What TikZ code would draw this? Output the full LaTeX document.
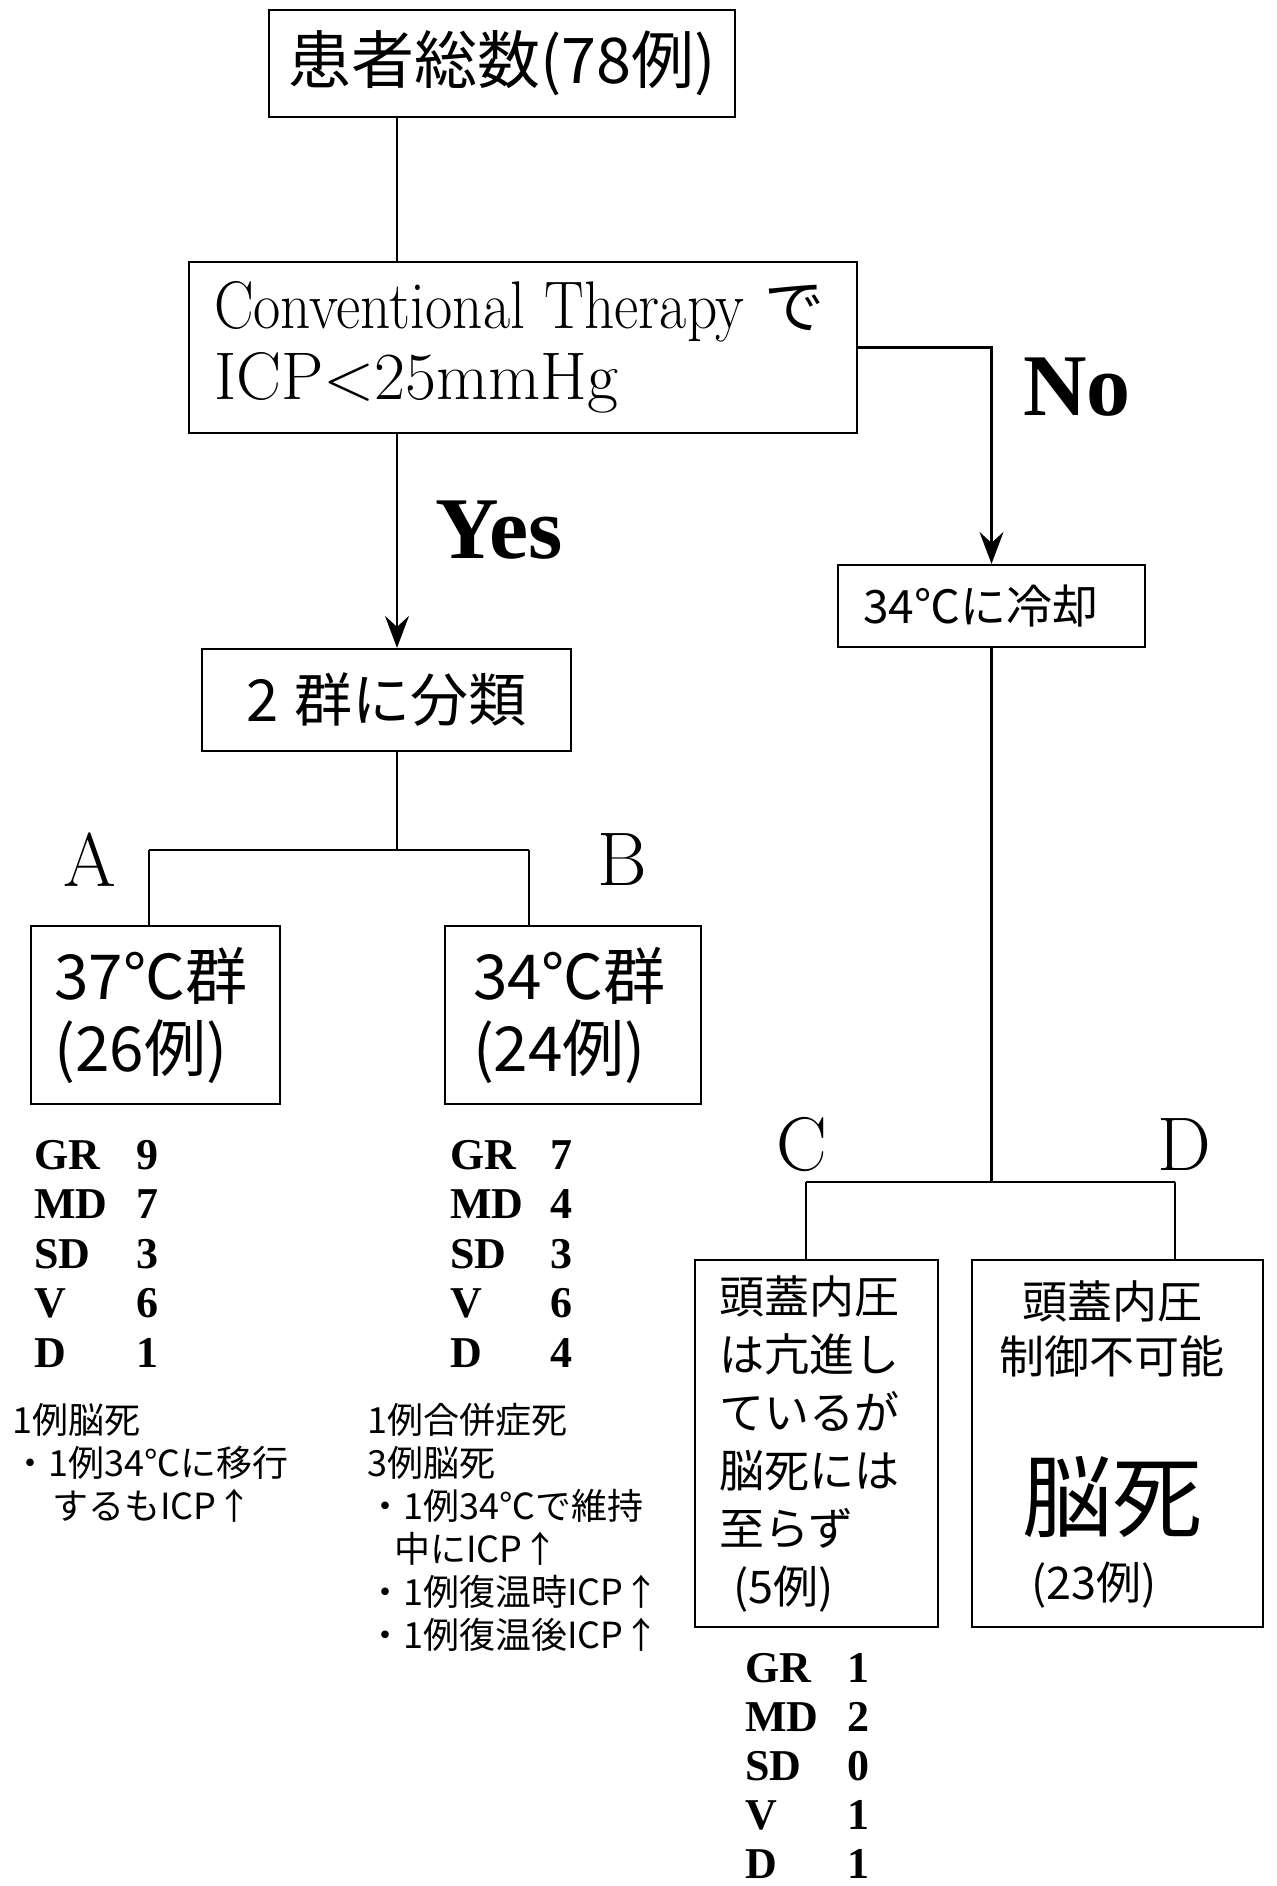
\documentclass[tikz,border=0pt]{standalone}
\usepackage{fontspec}
\usepackage{graphicx}
\newfontfamily\cjk{Noto Sans CJK JP}
\newfontfamily\tnr{Liberation Serif}
\usetikzlibrary{arrows.meta}
\begin{document}
\begin{tikzpicture}[x=0.5pt,y=-0.5pt,
  box/.style={draw, line width=1.1pt, inner sep=0pt},
  conn/.style={line width=1.1pt},
  arr/.style={conn, -{Stealth[length=16pt,width=12pt,inset=5.5pt]}},
  stat/.style={anchor=base west, inner sep=0pt, font=\tnr\bfseries\fontsize{22pt}{26pt}\selectfont},
  note/.style={anchor=base west, inner sep=0pt, font=\cjk\fontsize{18pt}{22pt}\selectfont},
  big/.style={inner sep=0pt, font=\tnr\bfseries\fontsize{44pt}{48pt}\selectfont},
  letter/.style={inner sep=0pt, font=\fontsize{38pt}{42pt}\selectfont},
  dtext/.style={anchor=center, inner sep=0pt, font=\cjk\fontsize{22.5pt}{27pt}\selectfont},
]
\useasboundingbox (0,0) rectangle (1277,1886);
\fill[white] (0,0) rectangle (1277,1886);
\coordinate (spine) at (397,0);

% boxes
\node[box, minimum width=233pt, minimum height=53.5pt, font=\cjk\fontsize{31.5pt}{36pt}\selectfont] (top) at (502,63.5) {患者総数(78例)};
\node[box, minimum width=334pt, minimum height=85.5pt, text width=309pt, inner xsep=12.5pt, align=left,
      font=\fontsize{33.7pt}{35.5pt}\selectfont] (conv) at (523,347.5)
      {\mbox{\scalebox{0.88}[1]{Conventional Therapy}\hspace{10pt}{\cjk\fontsize{30pt}{34pt}\selectfont で}}\\\scalebox{1.0}[1]{ICP<25mmHg}};
\node[box, minimum width=153.5pt, minimum height=41pt, text width=128.5pt, inner xsep=12.5pt, align=left,
      font=\cjk\fontsize{23pt}{27pt}\selectfont] (cool) at (991.5,606) {34℃に冷却};
\node[box, minimum width=184.5pt, minimum height=51pt, font=\cjk\fontsize{29pt}{33pt}\selectfont] (two) at (386.5,700) {2\hspace{8pt}群に分類};
\node[box, minimum width=124.5pt, minimum height=89pt, text width=101pt, inner xsep=11.75pt, align=left,
      font=\cjk\fontsize{31pt}{36pt}\selectfont] (abox) at (155.5,1015) {37℃群\\(26例)};
\node[box, minimum width=128pt, minimum height=89pt, text width=100pt, inner xsep=14pt, align=left,
      font=\cjk\fontsize{31pt}{36pt}\selectfont] (bbox) at (573,1015) {34℃群\\(24例)};
\node[box, minimum width=121.5pt, minimum height=183.5pt, text width=97.5pt, inner xsep=12pt, align=left,
      font=\cjk\fontsize{22.5pt}{29pt}\selectfont] (cbox) at (816.5,1443.5)
      {頭蓋内圧\\は亢進し\\ているが\\脳死には\\至らず\\\hspace*{7pt}(5例)};
\node[box, minimum width=145.5pt, minimum height=183.5pt] (dbox) at (1117.5,1443.5) {};
\node[dtext] (d1) at (1112,1301) {頭蓋内圧};
\node[dtext] (d2) at (1112,1356) {制御不可能};
\node[dtext, font=\cjk\fontsize{45pt}{50pt}\selectfont] (d3) at (1112,1497) {脳死};
\node[dtext] (d4) at (1094,1585) {(23例)};

% labels
\node[big] (yes) at (499,530) {Yes};
\node[big] (no) at (1077,387) {No};
\node[letter] (la) at (90,860) {A};
\node[letter] (lb) at (622,860) {B};
\node[letter] (lc) at (802,1145) {C};
\node[letter] (ld) at (1184,1145) {D};

% connectors
\draw[conn] (top.south -| spine) -- (conv.north -| spine);
\draw[arr] (conv.south -| spine) -- (two.north -| spine);
\draw[arr] (conv.east) -| (cool.north);
\coordinate (ja) at (149,850);
\coordinate (jb) at (529,850);
\draw[conn] (two.south -| spine) -- (ja -| spine);
\draw[conn] (ja) -- (jb);
\draw[conn] (ja) -- (ja |- abox.north);
\draw[conn] (jb) -- (jb |- bbox.north);
\coordinate (jc) at (806,1182);
\coordinate (jd) at (1175,1182);
\draw[conn] (cool.south) -- (cool.south |- jc);
\draw[conn] (jc) -- (jd);
\draw[conn] (jc) -- (jc |- cbox.north);
\draw[conn] (jd) -- (jd |- dbox.north);

% outcome lists
\foreach \l/\n [count=\i] in {GR/9,MD/7,SD/3,V/6,D/1}
  \node[stat] (sa\i) at (34,{1169+49.6*(\i-1)}) {\makebox[51pt][l]{\l}\n};
\foreach \l/\n [count=\i] in {GR/7,MD/4,SD/3,V/6,D/4}
  \node[stat] (sb\i) at (450,{1169+49.6*(\i-1)}) {\makebox[50pt][l]{\l}\n};
\foreach \l/\n [count=\i] in {GR/1,MD/2,SD/0,V/1,D/1}
  \node[stat] (sc\i) at (745,{1682+49*(\i-1)}) {\makebox[51pt][l]{\l}\n};

% notes
\node[note] (na1) at (12,1433) {1例脳死};
\node[note] (na2) at (12,1476) {・1例34℃に移行};
\node[note] (na3) at (52,1519) {するもICP↑};
\node[note] (nb1) at (367,1433) {1例合併症死};
\node[note] (nb2) at (367,1476) {3例脳死};
\node[note] (nb3) at (367,1519) {・1例34℃で維持};
\node[note] (nb4) at (394,1562) {中にICP↑};
\node[note] (nb5) at (367,1605) {・1例復温時ICP↑};
\node[note] (nb6) at (367,1648) {・1例復温後ICP↑};
\end{tikzpicture}
\end{document}
